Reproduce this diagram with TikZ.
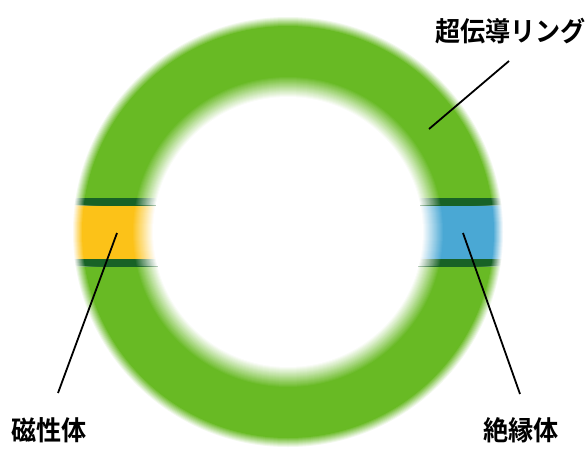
\documentclass[tikz,border=0pt]{standalone}
\usepackage{fontspec}
\newfontfamily\jpfont[FakeStretch=0.93,BoldFont={* Bold}]{Noto Sans CJK JP}
\definecolor{ringgreen}{RGB}{104,186,36}
\definecolor{stripegreen}{RGB}{24,98,38}
\definecolor{magyellow}{RGB}{252,194,24}
\definecolor{insblue}{RGB}{74,168,212}
\newcommand\ringlayer[1]{%
  \foreach \r in {216,215,...,136}{%
    \pgfmathtruncatemacro\ff{100*min(1,max(0,(\r-135)/21))*min(1,max(0,(216-\r)/10))}%
    \fill[#1!\ff!white] (288,232) circle (\r);
  }%
  \fill[white] (288,232) circle (135);
}
\tikzset{
  lbl/.style={font=\jpfont\bfseries\fontsize{27}{30}\selectfont, inner sep=0pt, text=black},
  leader/.style={line width=1.8pt, black}
}
\begin{document}
\begin{tikzpicture}[x=1pt,y=-1pt]
\useasboundingbox (0,0) rectangle (587,448);
\fill[white] (0,0) rectangle (587,448);
% ring
\ringlayer{ringgreen}
% left band (magnetic)
\begin{scope}
  \clip (60,205) rectangle (170,259);
  \ringlayer{magyellow}
\end{scope}
% right band (insulator)
\begin{scope}
  \clip (406,205) rectangle (520,259);
  \ringlayer{insblue}
\end{scope}
% dark stripes
\begin{scope}
  \clip (60,198) rectangle (170,205) (60,259) rectangle (170,266)
        (406,198) rectangle (520,205) (406,259) rectangle (520,266);
  \ringlayer{stripegreen}
\end{scope}
% clean hole
\fill[white] (288,232) circle (134.5);
% labels
\node[lbl, anchor=east] (lring) at (586,31) {超伝導リング};
\node[lbl, anchor=west] (lmag) at (11,430) {磁性体};
\node[lbl] (lins) at (521,430) {絶縁体};
% leader ends
\coordinate (pring) at (429,129);
\coordinate (ering) at (509,61);
\coordinate (pmag) at (117,233);
\coordinate (emag) at (58,393);
\coordinate (pins) at (463,233);
\coordinate (eins) at (520,394);
\draw[leader] (pring) -- (ering);
\draw[leader] (pmag) -- (emag);
\draw[leader] (pins) -- (eins);
\end{tikzpicture}
\end{document}
